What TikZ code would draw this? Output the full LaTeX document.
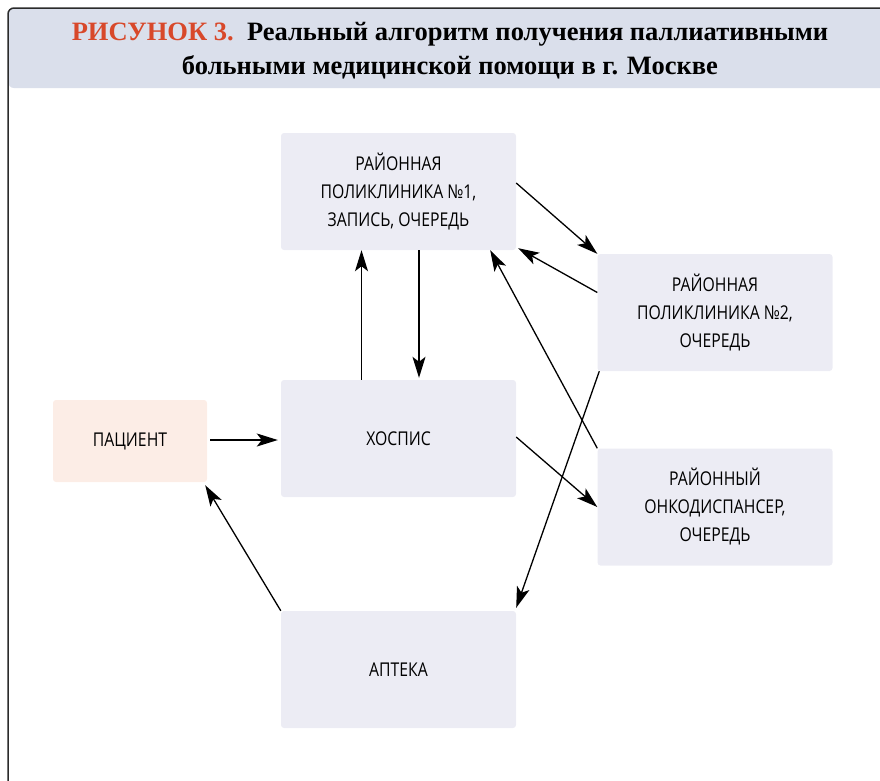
\documentclass[tikz,border=0pt]{standalone}
\usepackage{fontspec}
\setmainfont{Open Sans}[FakeStretch=0.83]
\newfontfamily\titlefont{Liberation Serif}[FakeStretch=1.0]
\usetikzlibrary{positioning, calc, arrows.meta}

\definecolor{boxfill}{HTML}{ECECF4}
\definecolor{patfill}{HTML}{FCEDE6}
\definecolor{headfill}{HTML}{DADFEB}
\definecolor{figred}{HTML}{D8482A}
\definecolor{framegray}{HTML}{2B2B2B}

\begin{document}
\begin{tikzpicture}[x=1pt, y=-1pt,
  place/.style={rectangle, rounded corners=3pt, fill=boxfill, minimum width=235pt, minimum height=117pt, align=center, font=\fontsize{19}{28}\selectfont},
  link/.style={-{Stealth[length=21pt, width=13pt, inset=5pt]}, line width=1.3pt, black}]
\useasboundingbox (0,0) rectangle (880,780);

% header and frame
\fill[headfill, rounded corners=6pt] (8,88) -- (8,8) -- (890,8) -- (890,88) -- cycle;
\draw[framegray, line width=1.5pt, rounded corners=6pt] (8,800) -- (8,8) -- (900,8);
\node[align=center, font=\titlefont\bfseries\fontsize{26.5}{34}\selectfont](title) at (450,51) {\textcolor{figred}{РИСУНОК 3.}\, Реальный алгоритм получения паллиативными\\ больными медицинской помощи в г. Москве};

% boxes
\node[place](p1) at (398.5,191.5) {РАЙОННАЯ\\ ПОЛИКЛИНИКА №1,\\ ЗАПИСЬ, ОЧЕРЕДЬ};
\node[place](p2) at (715,312.5) {РАЙОННАЯ\\ ПОЛИКЛИНИКА №2,\\ ОЧЕРЕДЬ};
\node[place](hosp) at (398.5,438.5) {ХОСПИС};
\node[place, fill=patfill, minimum width=154pt, minimum height=82pt](pat) at (130,441) {ПАЦИЕНТ};
\node[place](onko) at (715,507) {РАЙОННЫЙ\\ ОНКОДИСПАНСЕР,\\ ОЧЕРЕДЬ};
\node[place](apt) at (398.5,669.5) {АПТЕКА};

% arrows
\draw[link] ([yshift=8.5pt]p1.east) -- (p2.north west);
\draw[link] ([yshift=20pt]p2.west) -- ([xshift=2pt,yshift=2pt]p1.south east);
\draw[link] (onko.north west) -- ([xshift=-26pt]p1.south east);
\draw[link] ([xshift=-37pt]hosp.north) -- ([xshift=-37pt]p1.south);
\draw[link] ([xshift=20.5pt]p1.south) -- ([xshift=20.5pt,yshift=2pt]hosp.north);
\draw[link, shorten <=3pt, shorten >=3pt] ([yshift=1pt]pat.east) -- ([yshift=1pt]pat.east -| hosp.west);
\draw[link] ([yshift=1.5pt]hosp.east) -- (onko.west);
\draw[link] ([xshift=2pt]p2.south west) -- ([yshift=3pt]apt.north east);
\draw[link] (apt.north west) -- ([xshift=-2pt,yshift=-3pt]pat.south east);
\end{tikzpicture}
\end{document}
